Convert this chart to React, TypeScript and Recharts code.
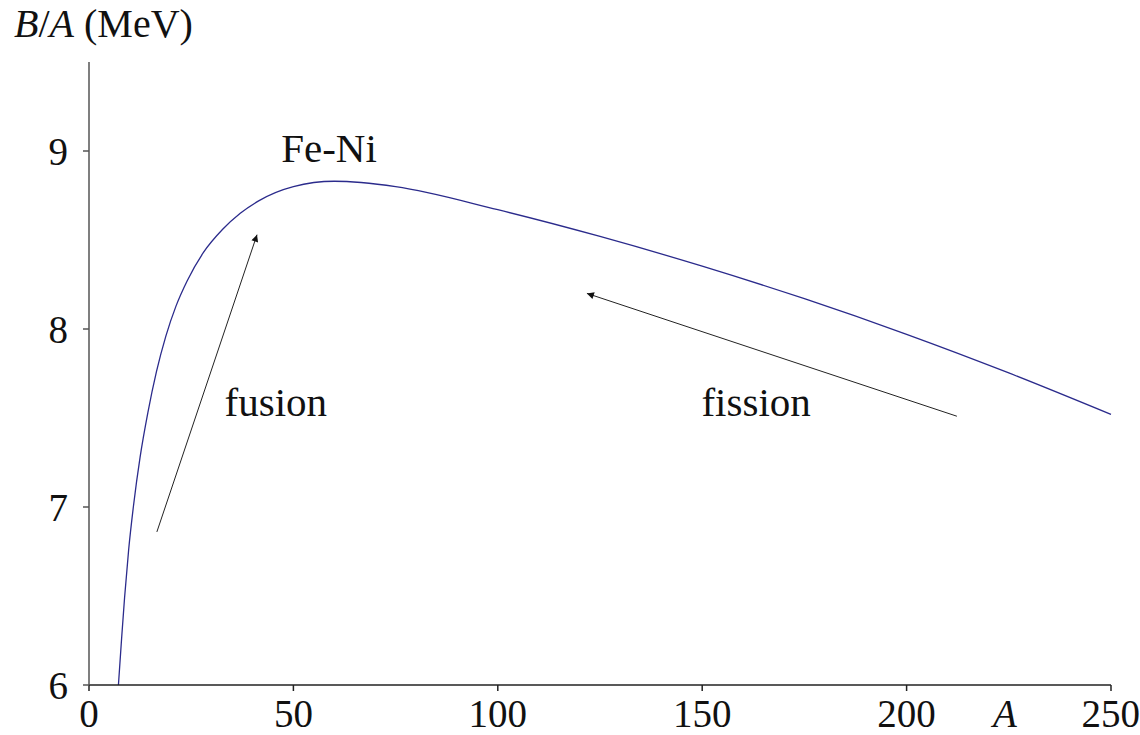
import { LineChart, Line, XAxis, YAxis, ReferenceLine, ReferenceDot } from 'recharts';

// mass number A and binding energy per nucleon (MeV)
const A_VALUES = [7.2, 8, 8.7, 9.7, 10.9, 12.5, 14.4, 16.5, 18.8, 21.3, 24, 28, 32.7, 37, 41.5, 50, 60, 75, 100, 125, 150, 175, 200, 225, 250];
const BA_VALUES = [6.0, 6.27, 6.49, 6.76, 7.01, 7.28, 7.53, 7.76, 7.96, 8.13, 8.27, 8.43, 8.56, 8.65, 8.72, 8.8, 8.83, 8.8, 8.67, 8.52, 8.353, 8.17, 7.97, 7.753, 7.52];

const X_TICKS = [0, 50, 100, 150, 200, 250];
const Y_TICKS = [6, 7, 8, 9];

// text notes placed in data coordinates (A, B/A)
const NOTE_TEXT = ['Fe-Ni', 'fusion', 'fission'];
const NOTE_A = [58.7, 45.7, 163.2];
const NOTE_B = [8.94, 7.51, 7.51];

// arrows: tail -> head
const ARROW_FROM = [
  { x: 16.6, y: 6.86 },
  { x: 212.3, y: 7.51 },
];
const ARROW_TO = [
  { x: 41.1, y: 8.53 },
  { x: 121.8, y: 8.2 },
];

const FONT = 'Liberation Serif';
const INK = '#111';

const curve = A_VALUES.map((a, i) => ({ a, b: BA_VALUES[i] }));

function YTitle() {
  return (
    <text x={14} y={37} fontSize={40} fill={INK} style={{ fontFamily: FONT }}>
      <tspan fontStyle='italic'>B</tspan>
      <tspan>/</tspan>
      <tspan fontStyle='italic'>A</tspan>
      <tspan> (MeV)</tspan>
    </text>
  );
}

function XTitle() {
  return (
    <text x={1005} y={727} fontSize={39} fill={INK} fontStyle='italic' textAnchor='middle' style={{ fontFamily: FONT }}>
      A
    </text>
  );
}

function NoteText(props: any) {
  const { viewBox, text } = props;
  return (
    <text x={viewBox.x} y={viewBox.y} fontSize={41} fill={INK} textAnchor='middle' style={{ fontFamily: FONT }}>
      {text}
    </text>
  );
}

function Arrow(props: any) {
  return (
    <line
      x1={props.x1}
      y1={props.y1}
      x2={props.x2}
      y2={props.y2}
      stroke='#222'
      strokeWidth={1}
      markerEnd='url(#arrowHead)'
    />
  );
}

const tickStyle = { fill: INK, fontSize: 39, fontFamily: FONT };

export default function App() {
  return (
    <div style={{ position: 'absolute', left: 0, top: 0, width: 1140, height: 735, background: '#fff' }}>
      <svg width={0} height={0} style={{ position: 'absolute' }}>
        <defs>
          <marker
            id='arrowHead'
            viewBox='0 0 10 10'
            refX='10'
            refY='5'
            markerWidth='10'
            markerHeight='7'
            markerUnits='userSpaceOnUse'
            orient='auto'
          >
            <path d='M0,0 L10,5 L0,10 z' fill='#111' />
          </marker>
        </defs>
      </svg>
      <LineChart width={1140} height={735} data={curve} margin={{ top: 62, right: 29, bottom: 0, left: 0 }}>
        <XAxis
          type='number'
          dataKey='a'
          domain={[0, 250]}
          ticks={X_TICKS}
          height={50}
          tickSize={6}
          tickMargin={8}
          axisLine={{ stroke: '#222', strokeWidth: 1.5 }}
          tickLine={{ stroke: '#222', strokeWidth: 1.5 }}
          tick={tickStyle}
          label={<XTitle />}
        />
        <YAxis
          type='number'
          domain={[6, 9.5]}
          ticks={Y_TICKS}
          width={89}
          tickSize={6}
          tickMargin={15}
          axisLine={{ stroke: '#555', strokeWidth: 1.5 }}
          tickLine={{ stroke: '#555', strokeWidth: 1.5 }}
          tick={tickStyle}
          label={<YTitle />}
        />
        <Line
          type='monotone'
          dataKey='b'
          stroke='#2b2b8c'
          strokeWidth={1.3}
          dot={false}
          isAnimationActive={false}
        />
        {ARROW_FROM.map((from, i) => (
          <ReferenceLine key={`arrow-${i}`} segment={[from, ARROW_TO[i]]} shape={Arrow} />
        ))}
        {NOTE_TEXT.map((text, i) => (
          <ReferenceDot
            key={`note-${i}`}
            x={NOTE_A[i]}
            y={NOTE_B[i]}
            r={0}
            fill='none'
            stroke='none'
            label={<NoteText text={text} />}
          />
        ))}
      </LineChart>
    </div>
  );
}
